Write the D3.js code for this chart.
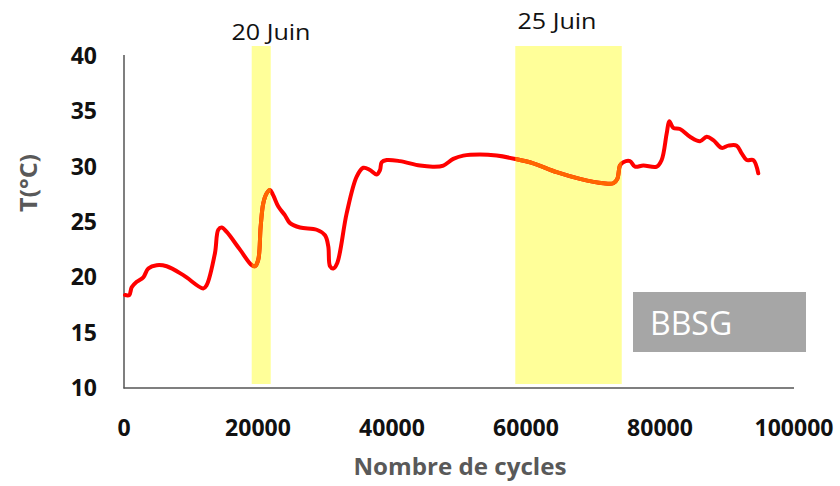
<!DOCTYPE html>
<html><head><meta charset="utf-8">
<script src="https://cdn.jsdelivr.net/npm/d3@7"></script>
<style>body{margin:0;background:#fff}svg{display:block}</style>
</head><body>
<svg id="c" width="840" height="486"></svg>
<script>
const cycles = [150,790,1150,1900,2880,3630,4880,6370,8850,11830,12340,13580,14070,14580,15330,17310,19060,19550,20040,20400,20790,21300,21790,22280,23030,24030,24780,26270,28760,30000,30490,30750,31240,31830,33240,34730,35720,36720,37710,38210,38460,39210,41190,44180,46160,47660,49150,50640,53130,55620,58400,61090,64580,68060,71540,73030,73630,74030,74520,75520,76270,77510,79510,80250,81000,81390,81980,82980,84480,85970,86970,87950,89210,90200,91450,92190,92940,93930,94670];
const temps = [18.4,18.4,19.1,19.6,20.0,20.8,21.1,21.0,20.2,19.0,19.3,22.2,24.3,24.5,24.1,22.5,21.1,21.0,21.6,24.6,26.7,27.6,27.9,27.4,26.4,25.6,24.9,24.5,24.3,23.8,22.8,21.0,20.8,21.3,25.8,29.1,29.9,29.7,29.3,29.7,30.4,30.6,30.5,30.1,30.0,30.1,30.7,31.0,31.1,31.0,30.7,30.3,29.5,28.9,28.5,28.5,28.9,30.1,30.4,30.5,30.0,30.1,30.0,30.6,33.0,34.1,33.5,33.4,32.7,32.3,32.7,32.4,31.7,31.9,31.9,31.2,30.6,30.6,29.4];
const xTicks = [0,20000,40000,60000,80000,100000];
const yTicks = [10,15,20,25,30,35,40];
const bandStart = [19060, 58400];
const bandEnd = [21900, 74290];
const bandLabels = ["20 Juin", "25 Juin"];
const boxLabel = "BBSG";

const svg = d3.select("#c");
const x = d3.scaleLinear().domain([0,100000]).range([124,794]);
const y = d3.scaleLinear().domain([10,40]).range([388,56]);
const font = "'Open Sans', sans-serif";

// bands
const bandLabelBase = [40, 29];
const bandLabelCx = [271, 557];
svg.selectAll("rect.band").data(bandStart).join("rect").attr("class","band")
  .attr("x", (d,i)=>x(d)).attr("width",(d,i)=>x(bandEnd[i])-x(d))
  .attr("y", 46).attr("height", 338).attr("fill","#ffff99");

svg.append("defs").append("clipPath").attr("id","bclip")
  .selectAll("rect").data(bandStart).join("rect")
  .attr("x", (d,i)=>x(d)).attr("width",(d,i)=>x(bandEnd[i])-x(d))
  .attr("y", 0).attr("height", 486);

svg.selectAll("text.bl").data(bandLabels).join("text").attr("class","bl")
  .attr("x",(d,i)=>bandLabelCx[i])
  .attr("y",(d,i)=>bandLabelBase[i])
  .attr("text-anchor","middle").attr("font-family",font).attr("font-size",21)
  .attr("textLength",79).attr("lengthAdjust","spacingAndGlyphs")
  .attr("fill","#111").text(d=>d);

// axes
svg.append("line").attr("x1",124).attr("x2",124).attr("y1",55).attr("y2",388.5).attr("stroke","#555").attr("stroke-width",1.5);
svg.append("line").attr("x1",123.5).attr("x2",794).attr("y1",388).attr("y2",388).attr("stroke","#555").attr("stroke-width",1.5);

svg.selectAll("text.yt").data(yTicks).join("text").attr("class","yt")
  .attr("x",97).attr("y",d=>y(d)).attr("dy","0.35em").attr("text-anchor","end")
  .attr("font-family",font).attr("font-weight",700).attr("font-size",23).attr("fill","#111")
  .text(d=>d);
svg.selectAll("text.xt").data(xTicks).join("text").attr("class","xt")
  .attr("x",d=>x(d)).attr("y",436).attr("text-anchor","middle")
  .attr("font-family",font).attr("font-weight",700).attr("font-size",23).attr("fill","#111")
  .text(d=>d);

svg.append("text").attr("x",460).attr("y",475).attr("text-anchor","middle")
  .attr("font-family",font).attr("font-weight",700).attr("font-size",23).attr("fill","#595959")
  .attr("textLength",213).attr("lengthAdjust","spacingAndGlyphs")
  .text("Nombre de cycles");
svg.append("text").attr("transform","translate(37,183) rotate(-90)").attr("text-anchor","middle")
  .attr("font-family",font).attr("font-weight",700).attr("font-size",24).attr("fill","#595959")
  .attr("textLength",58).attr("lengthAdjust","spacingAndGlyphs")
  .text("T(°C)");

// line
const pts = cycles.map((c,i)=>[c,temps[i]]);
const line = d3.line().x(d=>x(d[0])).y(d=>y(d[1])).curve(d3.curveCatmullRom.alpha(0.5));
svg.append("path").attr("d",line(pts)).attr("fill","none").attr("stroke","#ff0000")
  .attr("stroke-width",4).attr("stroke-linejoin","round").attr("stroke-linecap","round");
svg.append("path").attr("d",line(pts)).attr("fill","none").attr("stroke","#ff6600")
  .attr("stroke-width",4).attr("stroke-linejoin","round").attr("clip-path","url(#bclip)");

// box
svg.append("rect").attr("x",633).attr("y",292).attr("width",173).attr("height",60).attr("fill","#a6a6a6");
svg.append("text").attr("x",650).attr("y",335).attr("font-family",font).attr("font-size",32)
  .attr("fill","#fff").text(boxLabel);
</script>
</body></html>
